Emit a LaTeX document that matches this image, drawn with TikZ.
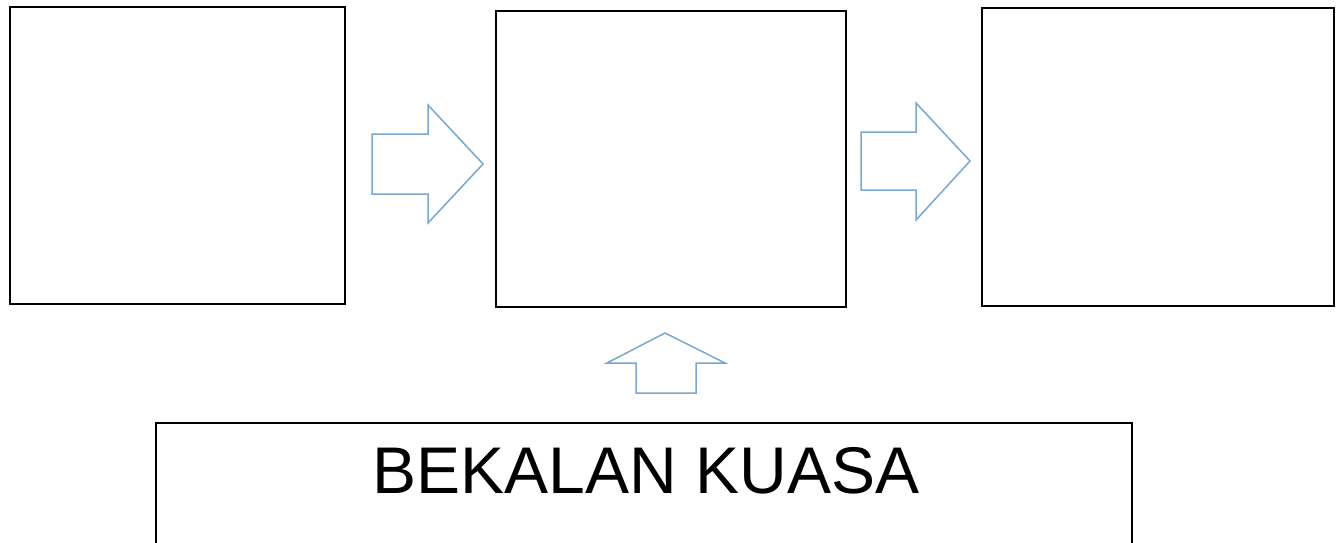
\documentclass[tikz,border=0pt]{standalone}
\usepackage{fontspec}
\setmainfont{Liberation Sans}
\definecolor{arrowblue}{RGB}{120,168,210}
\begin{document}
\begin{tikzpicture}[x=1pt,y=-1pt,
  box/.style={draw=black,line width=2pt,fill=white},
  blockarrow/.style={draw=arrowblue,line width=1.5pt,fill=white,line join=miter}]
\useasboundingbox (0,0) rectangle (1340,542);
\clip (0,0) rectangle (1340,542);
\fill[white] (0,0) rectangle (1340,542);
% boxes
\draw[box] (10,7) rectangle (345,304);
\draw[box] (496,11) rectangle (846,307);
\draw[box] (982,8) rectangle (1334,306);
\draw[box] (156,423) rectangle (1132,560);
\node[anchor=base,inner sep=0pt] (label) at (646,493) {\fontsize{66}{78}\selectfont BEKALAN KUASA};
% right arrows
\draw[blockarrow] (372,134) -- (428,134) -- (428,105) -- (483,164) -- (428,223) -- (428,194) -- (372,194) -- cycle;
\draw[blockarrow] (861,132) -- (916,132) -- (916,103) -- (970,161) -- (916,220) -- (916,190) -- (861,190) -- cycle;
% up arrow
\draw[blockarrow] (636,393) -- (636,363) -- (607,363) -- (665,333) -- (725,363) -- (696,363) -- (696,393) -- cycle;
\end{tikzpicture}
\end{document}
